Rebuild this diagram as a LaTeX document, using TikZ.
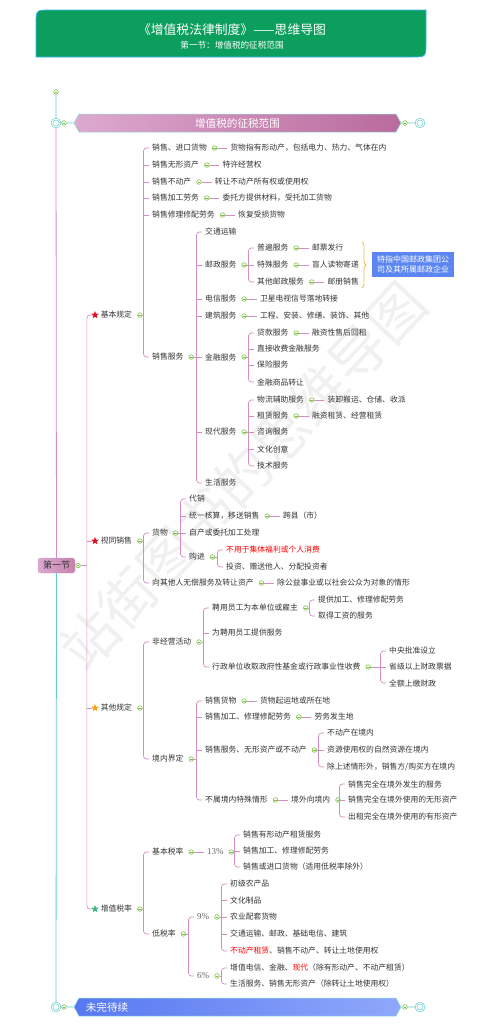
\documentclass[tikz,border=0pt]{standalone}
\usepackage{fontspec}
\setmainfont{Noto Sans CJK SC}
\newfontfamily\numfont{Liberation Serif}
\usetikzlibrary{positioning,shapes.geometric,shapes.symbols,decorations.pathreplacing}

\definecolor{linepink}{HTML}{D38CC4}
\definecolor{knobgreen}{HTML}{7CC242}
\definecolor{trunkteal}{HTML}{5FCDCB}
\definecolor{titlegreen}{HTML}{0C9E5C}
\definecolor{titleedge}{HTML}{35B6F2}
\definecolor{bracegold}{HTML}{F5BA50}
\definecolor{noteblue}{HTML}{5C86F2}
\definecolor{starred}{HTML}{E3101E}
\definecolor{starorange}{HTML}{F6A610}
\definecolor{stargreen}{HTML}{3FB67E}
\definecolor{mauvelight}{HTML}{DDA9CF}
\definecolor{mauvedark}{HTML}{B96B9D}
\definecolor{bluedark}{HTML}{5878F0}
\definecolor{bluelight}{HTML}{8FA8FB}

\tikzset{
  leaf/.style={anchor=west,inner xsep=3pt,inner ysep=1pt,font=\fontsize{7.8}{9}\selectfont,text=black!80},
  pct/.style={leaf,font=\numfont\fontsize{9}{10}\selectfont,text=black!60},
  knob/.style={circle,draw=knobgreen,fill=white,line width=.6pt,inner sep=0pt,minimum size=4.6pt,
    path picture={\draw[knobgreen,line width=.6pt] ([xshift=.9pt]path picture bounding box.west) -- ([xshift=-.9pt]path picture bounding box.east);}},
  br/.style={draw=linepink,line width=.7pt,rounded corners=3pt},
  trunk/.style={draw=trunkteal,line width=.8pt},
  ring/.style={circle,draw=trunkteal,double=white,double distance=1pt,line width=.6pt,minimum size=8pt,inner sep=0pt},
  topicstar/.style={star,star points=5,star point ratio=2.3,fill=#1,inner sep=0pt,minimum size=8pt},
  banner/.style={signal,signal to=west and east,signal pointer angle=122,draw=trunkteal!70,line width=.5pt,
    minimum width=327pt,minimum height=18pt,inner sep=0pt,text=white,font=\fontsize{10.6}{12}\selectfont}
}

% knob after a topic
\newcommand\kn[1]{\node[knob,right=2pt of #1] (k#1) {};}
% spine from knob to first and last child
\newcommand\fork[3]{%
  \path (#2.west) ++(-5.5pt,0) coordinate (sp);
  \draw[br] (#2.west) -- (sp) |- (#3.west);
  \draw[br] (#1.east) -- (#1.east -| sp);}
% ticks for the children between
\newcommand\ticks[1]{\foreach \c in {#1} \draw[br] (\c.west) -- (\c.west -| sp);}

\begin{document}
\begin{tikzpicture}[x=1pt,y=-1pt]
\useasboundingbox (0,0) rectangle (497,1026);
\node[rotate=47,text=black!6,font=\fontsize{56}{60}\selectfont] (wm) at (243,476) {站街图书的思维导图};

% title
\draw[titleedge,fill=titlegreen,line width=.8pt] (36,57) -- (36,24) .. controls (36,10) .. (50,10)
  -- (426,10) -- (426,43) .. controls (426,57) .. (412,57) -- cycle;
\node[text=white,font=\fontsize{12.8}{14}\selectfont] (title) at (232,30) {《增值税法律制度》——思维导图};
\node[text=white,font=\fontsize{8.6}{10}\selectfont] (subtitle) at (232,45) {第一节：增值税的征税范围};

% trunk and banners
\node[knob] (k0) at (56,92) {};
\node[ring] (c1) at (56,123) {};
\node[knob] (c1k) at (64,123) {};
\node[banner,left color=mauvelight,right color=mauvedark] (bn1) at (237.5,123) {增值税的征税范围};
\node[knob] (bn1k) at (405,123) {};
\node[ring] (c2) at (420,123) {};
\node[rounded corners=2.5pt,draw=mauvedark!60,left color=mauvelight,right color=mauvedark!85,
  minimum width=37pt,minimum height=15pt,inner sep=0pt,text=black!80,font=\fontsize{9}{10}\selectfont] (sec) at (56.5,565.5) {第一节};
\node[knob] (seck) at (78,565.5) {};
\node[ring] (c3) at (56,1007) {};
\node[knob] (c3k) at (64,1007) {};
\node[banner,left color=bluedark,right color=bluelight] (bn2) at (237.5,1007) {};
\node[text=white,font=\fontsize{10.6}{12}\selectfont] (bn2t) at (107,1007) {未完待续};
\node[knob] (bn2k) at (405,1007) {};
\node[ring] (c4) at (420,1007) {};
\draw[trunk] (k0) -- (c1) (c1) -- (c1k) (c1k) -- (bn1) (bn1) -- (bn1k) (bn1k) -- (c2);
\draw[trunk,draw=linepink] (c1) -- (sec);
\draw[trunk] (sec) -- (c3) (c3) -- (c3k) (c3k) -- (bn2) (bn2) -- (bn2k) (bn2k) -- (c4);

% level one
\node[topicstar=starred] (s1) at (95,315) {};
\node[leaf,right=0pt of s1] (b1) {基本规定}; \kn{b1}
\node[topicstar=starred] (s2) at (95,541) {};
\node[leaf,right=0pt of s2] (b2) {视同销售}; \kn{b2}
\node[topicstar=starorange] (s3) at (95,708) {};
\node[leaf,right=0pt of s3] (b3) {其他规定}; \kn{b3}
\node[topicstar=stargreen] (s4) at (95,909) {};
\node[leaf,right=0pt of s4] (b4) {增值税率}; \kn{b4}
\fork{seck}{s1}{s4} \ticks{s2,s3}

% 基本规定
\node[leaf] (a1) at (149,148) {销售、进口货物}; \kn{a1}
\node[leaf,right=10pt of ka1] (a1-x) {货物指有形动产，包括电力、热力、气体在内};
\node[leaf] (a2) at (149,165) {销售无形资产}; \kn{a2}
\node[leaf,right=10pt of ka2] (a2-x) {特许经营权};
\node[leaf] (a3) at (149,182) {销售不动产}; \kn{a3}
\node[leaf,right=10pt of ka3] (a3-x) {转让不动产所有权或使用权};
\node[leaf] (a4) at (149,198) {销售加工劳务}; \kn{a4}
\node[leaf,right=10pt of ka4] (a4-x) {委托方提供材料，受托加工货物};
\node[leaf] (a5) at (149,215) {销售修理修配劳务}; \kn{a5}
\node[leaf,right=10pt of ka5] (a5-x) {恢复受损货物};
\node[leaf] (a6) at (149,357) {销售服务}; \kn{a6}
\fork{kb1}{a1}{a6} \ticks{a2,a3,a4,a5}

\node[leaf] (v1) at (202,232) {交通运输};
\node[leaf] (v2) at (202,265) {邮政服务}; \kn{v2}
\node[leaf] (v3) at (202,299) {电信服务}; \kn{v3}
\node[leaf,right=10pt of kv3] (v3-x) {卫星电视信号落地转接};
\node[leaf] (v4) at (202,316) {建筑服务}; \kn{v4}
\node[leaf,right=10pt of kv4] (v4-x) {工程、安装、修缮、装饰、其他};
\node[leaf] (v5) at (202,357) {金融服务}; \kn{v5}
\node[leaf] (v6) at (202,432) {现代服务}; \kn{v6}
\node[leaf] (v7) at (202,483) {生活服务};
\fork{ka6}{v1}{v7} \ticks{v2,v3,v4,v5,v6}

\node[leaf] (p1) at (254,248) {普遍服务}; \kn{p1}
\node[leaf,right=10pt of kp1] (p1-x) {邮票发行};
\node[leaf] (p2) at (254,265) {特殊服务}; \kn{p2}
\node[leaf,right=10pt of kp2] (p2-x) {盲人读物寄递};
\node[leaf] (p3) at (254,282) {其他邮政服务}; \kn{p3}
\node[leaf,right=10pt of kp3] (p3-x) {邮册销售};
\fork{kv2}{p1}{p3} \ticks{p2}
\coordinate (bt) at (362,242);
\coordinate (bb) at (362,288);
\draw[bracegold,line width=.8pt,decorate,decoration={brace,amplitude=4pt}] (bt) -- (bb);
\node[fill=noteblue,text=white,font=\fontsize{8}{10.5}\selectfont,align=left,inner sep=1pt,
  minimum width=82pt,minimum height=25pt] (note) at (413,264.5) {特指中国邮政集团公\\司及其所属邮政企业};

\node[leaf] (f1) at (254,333) {贷款服务}; \kn{f1}
\node[leaf,right=10pt of kf1] (f1-x) {融资性售后回租};
\node[leaf] (f2) at (254,349) {直接收费金融服务};
\node[leaf] (f3) at (254,365) {保险服务};
\node[leaf] (f4) at (254,382) {金融商品转让};
\fork{kv5}{f1}{f4} \ticks{f2,f3}

\node[leaf] (m1) at (254,400) {物流辅助服务}; \kn{m1}
\node[leaf,right=10pt of km1] (m1-x) {装卸搬运、仓储、收派};
\node[leaf] (m2) at (254,416) {租赁服务}; \kn{m2}
\node[leaf,right=10pt of km2] (m2-x) {融资租赁、经营租赁};
\node[leaf] (m3) at (254,432) {咨询服务};
\node[leaf] (m4) at (254,449) {文化创意};
\node[leaf] (m5) at (254,466) {技术服务};
\fork{kv6}{m1}{m5} \ticks{m2,m3,m4}

% 视同销售
\node[leaf] (g1) at (149,533) {货物}; \kn{g1}
\node[leaf] (g2) at (149,583) {向其他人无偿服务及转让资产}; \kn{g2}
\node[leaf,right=10pt of kg2] (g2-x) {除公益事业或以社会公众为对象的情形};
\fork{kb2}{g1}{g2}
\node[leaf] (g3) at (186,499) {代销};
\node[leaf] (g4) at (186,516) {统一核算，移送销售}; \kn{g4}
\node[leaf,right=10pt of kg4] (g4-x) {跨县（市）};
\node[leaf] (g5) at (186,533) {自产或委托加工处理};
\node[leaf] (g6) at (186,557) {购进}; \kn{g6}
\fork{kg1}{g3}{g6} \ticks{g4,g5}
\node[leaf,text=red] (g7) at (223,550) {不用于集体福利或个人消费};
\node[leaf] (g8) at (223,567) {投资、赠送他人、分配投资者};
\fork{kg6}{g7}{g8}

% 其他规定
\node[leaf] (o1) at (149,642) {非经营活动}; \kn{o1}
\node[leaf] (o2) at (149,759) {境内界定}; \kn{o2}
\fork{kb3}{o1}{o2}
\node[leaf] (o3) at (209,608) {聘用员工为本单位或雇主}; \kn{o3}
\node[leaf] (o4) at (209,633) {为聘用员工提供服务};
\node[leaf] (o5) at (209,667) {行政单位收取政府性基金或行政事业性收费}; \kn{o5}
\fork{ko1}{o3}{o5} \ticks{o4}
\node[leaf] (o6) at (315,600) {提供加工、修理修配劳务};
\node[leaf] (o7) at (315,616) {取得工资的服务};
\fork{ko3}{o6}{o7}
\node[leaf] (o8) at (386,651) {中央批准设立};
\node[leaf] (o9) at (386,667) {省级以上财政票据};
\node[leaf] (o10) at (386,683) {全额上缴财政};
\fork{ko5}{o8}{o10} \ticks{o9}

\node[leaf] (d1) at (202,701) {销售货物}; \kn{d1}
\node[leaf,right=10pt of kd1] (d1-x) {货物起运地或所在地};
\node[leaf] (d2) at (202,717) {销售加工、修理修配劳务}; \kn{d2}
\node[leaf,right=10pt of kd2] (d2-x) {劳务发生地};
\node[leaf] (d3) at (202,750) {销售服务、无形资产或不动产}; \kn{d3}
\node[leaf] (d4) at (202,800) {不属境内特殊情形}; \kn{d4}
\node[leaf,right=10pt of kd4] (d5) {境外向境内}; \kn{d5}
\fork{ko2}{d1}{d4} \ticks{d2,d3}
\node[leaf] (d6) at (324,733) {不动产在境内};
\node[leaf] (d7) at (324,750) {资源使用权的自然资源在境内};
\node[leaf] (d8) at (324,767) {除上述情形外，销售方/购买方在境内};
\fork{kd3}{d6}{d8} \ticks{d7}
\node[leaf] (d9) at (345,784) {销售完全在境外发生的服务};
\node[leaf] (d10) at (345,800) {销售完全在境外使用的无形资产};
\node[leaf] (d11) at (345,817) {出租完全在境外使用的有形资产};
\fork{kd5}{d9}{d11} \ticks{d10}

% 增值税率
\node[leaf] (r1) at (149,852) {基本税率}; \kn{r1}
\node[pct,right=10pt of kr1] (r2) {13\%}; \kn{r2}
\node[leaf] (r6) at (149,934) {低税率}; \kn{r6}
\fork{kb4}{r1}{r6}
\node[leaf] (r3) at (240,835) {销售有形动产租赁服务};
\node[leaf] (r4) at (240,851) {销售加工、修理修配劳务};
\node[leaf] (r5) at (240,867) {销售或进口货物（适用低税率除外）};
\fork{kr2}{r3}{r5} \ticks{r4}
\node[pct] (r7) at (194,917) {9\%}; \kn{r7}
\node[pct] (r8) at (194,976) {6\%}; \kn{r8}
\fork{kr6}{r7}{r8}
\node[leaf] (r9) at (227,884) {初级农产品};
\node[leaf] (r10) at (227,900) {文化制品};
\node[leaf] (r11) at (227,917) {农业配套货物};
\node[leaf] (r12) at (227,934) {交通运输、邮政、基础电信、建筑};
\node[leaf] (r13) at (227,951) {\textcolor{red}{不动产租赁}、销售不动产、转让土地使用权};
\fork{kr7}{r9}{r13} \ticks{r10,r11,r12}
\node[leaf] (r14) at (227,968) {增值电信、金融、\textcolor{red}{现代}（除有形动产、不动产租赁）};
\node[leaf] (r15) at (227,984) {生活服务、销售无形资产（除转让土地使用权）};
\fork{kr8}{r14}{r15}

% single links
\foreach \n in {a1,a2,a3,a4,a5,v3,v4,p1,p2,p3,f1,m1,m2,g2,g4,d1,d2}
  \draw[br] (k\n) -- (\n-x);
\draw[br] (kd4) -- (d5) (kr1) -- (r2);
\end{tikzpicture}
\end{document}
